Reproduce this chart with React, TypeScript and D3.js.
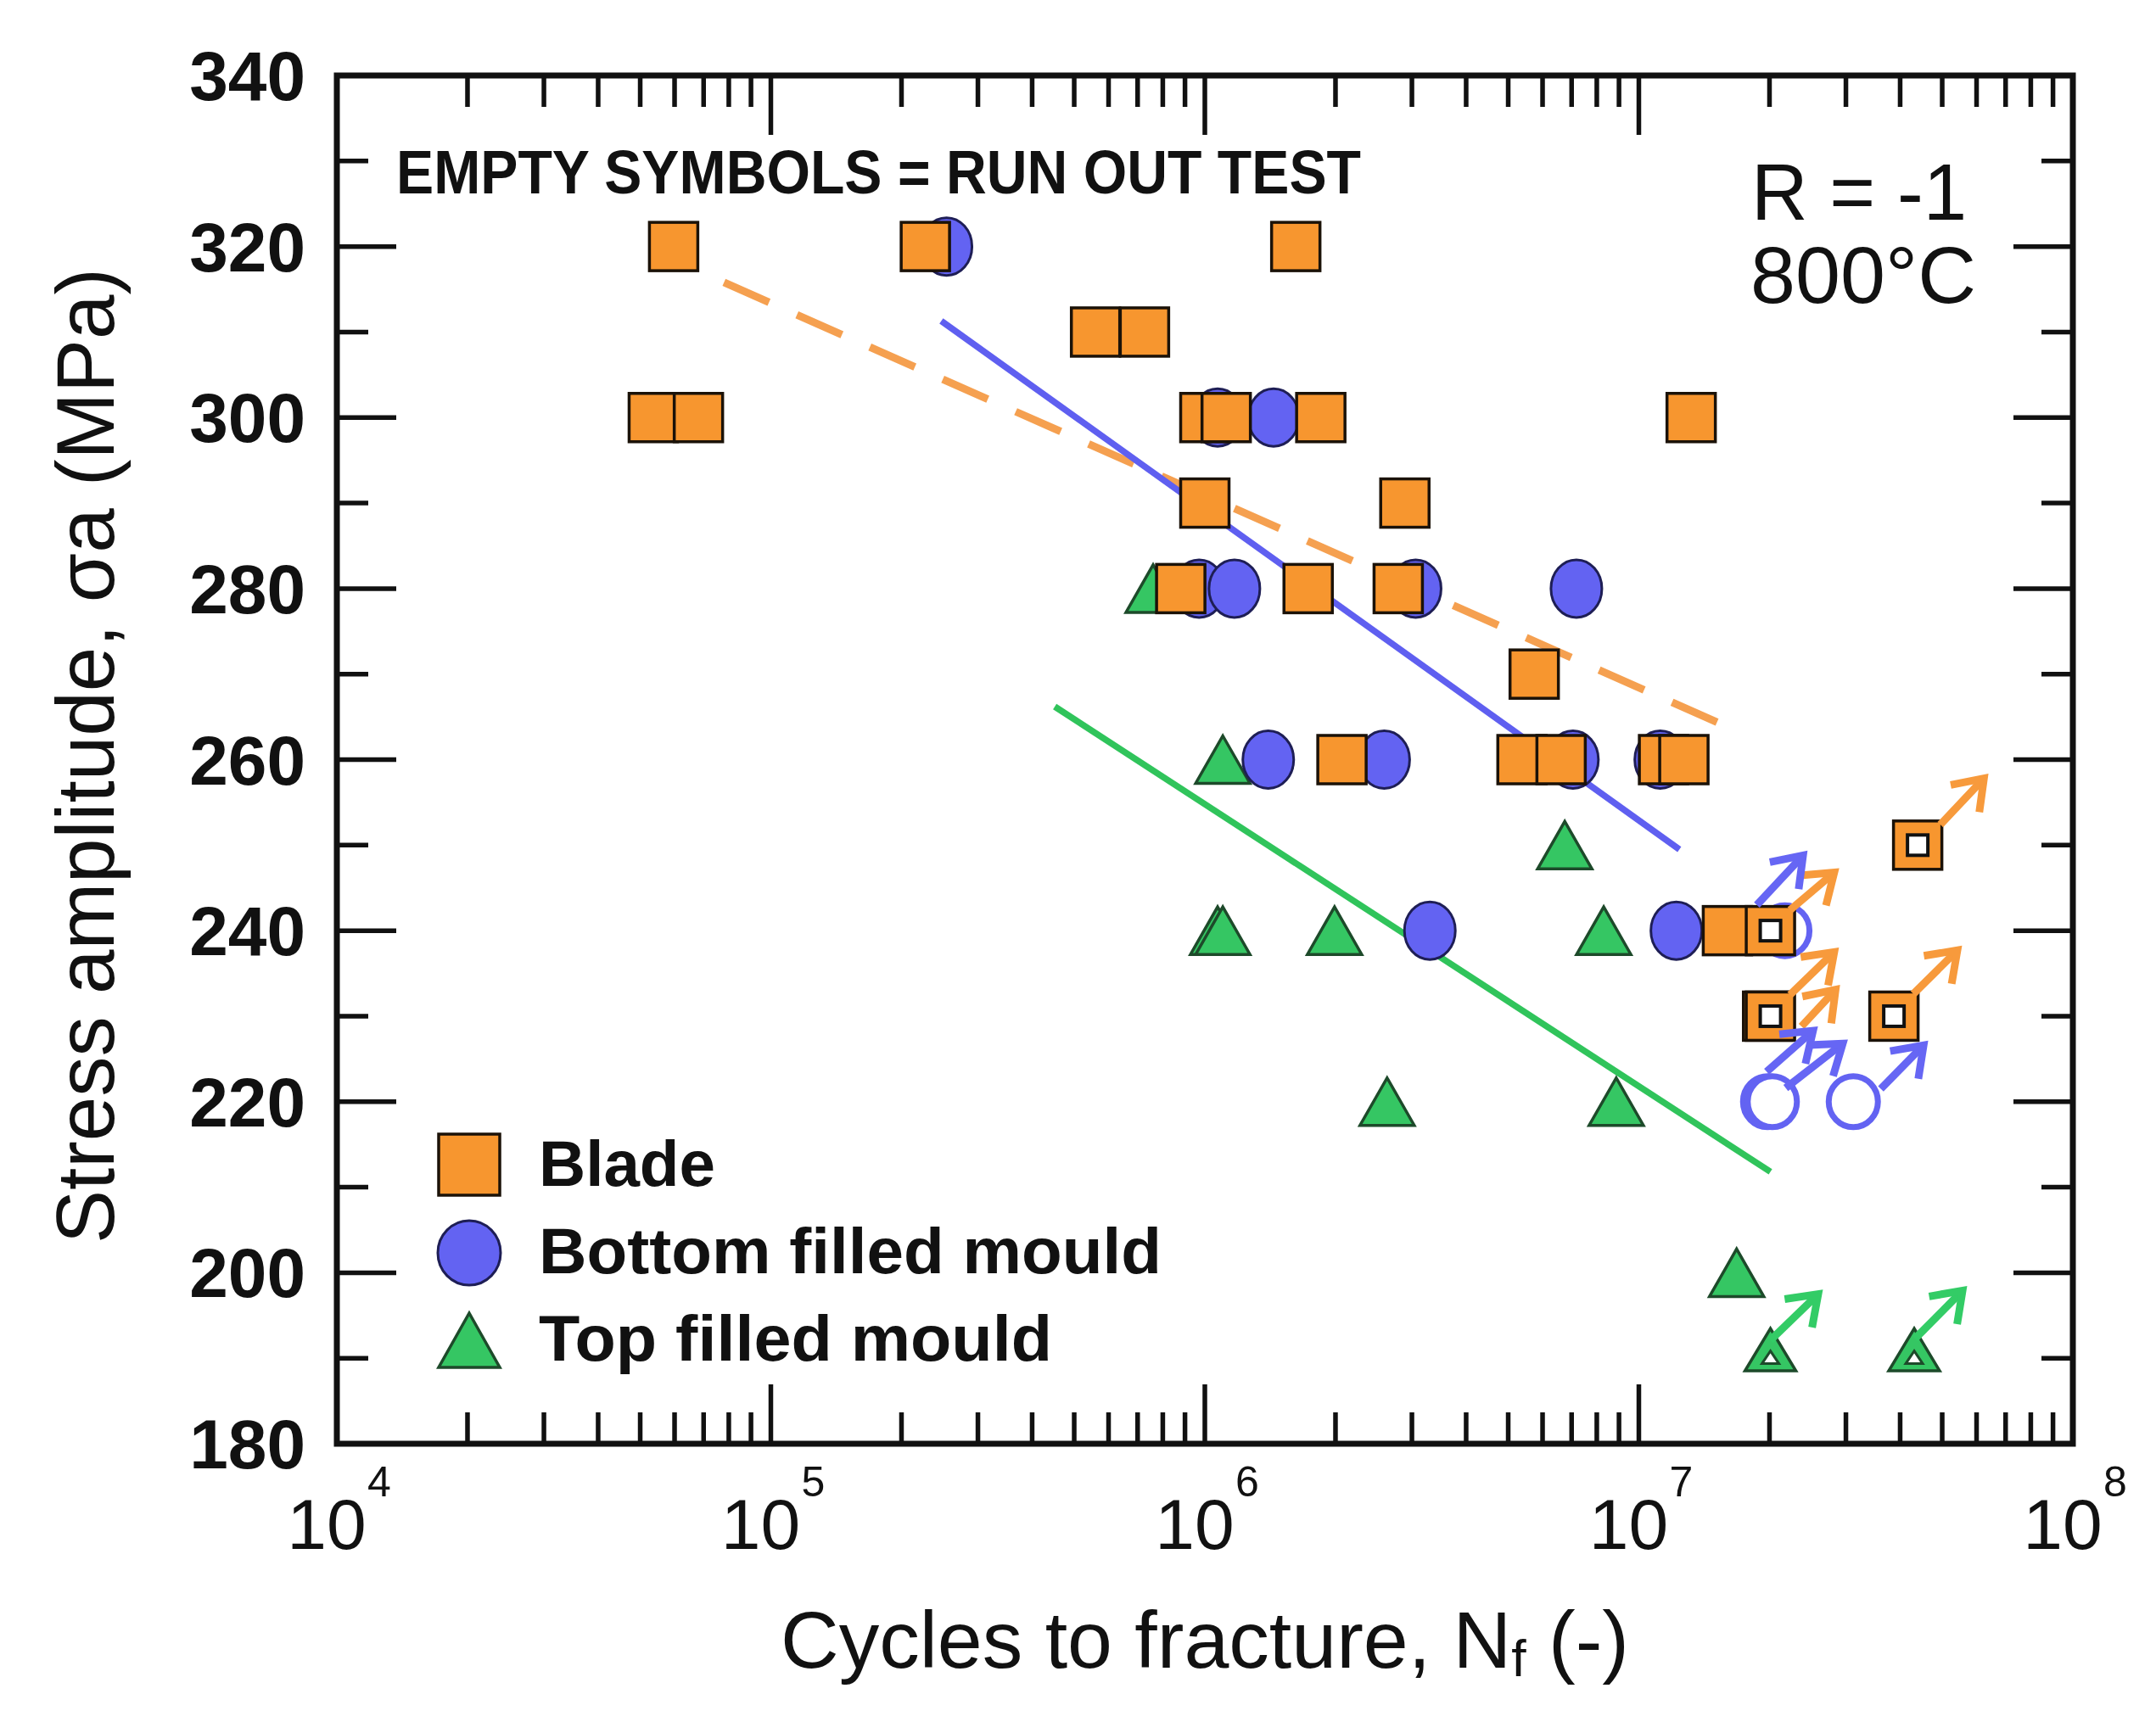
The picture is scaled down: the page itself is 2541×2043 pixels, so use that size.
import React from "react";
import * as d3 from "d3";

// ---------------- data ----------------
const X_DOMAIN: [number, number] = [1e4, 1e8];
const Y_DOMAIN: [number, number] = [180, 340];
const Y_TICKS = [180, 200, 220, 240, 260, 280, 300, 320, 340];
const Y_MINOR = [190, 210, 230, 250, 270, 290, 310, 330];
const X_EXPONENTS = [4, 5, 6, 7, 8];

// Blade (squares) – failed specimens [Nf, stress]
const bladeFailed: [number, number][] = [
  [5.97e4, 320], [2.27e5, 320], [1.62e6, 320],
  [5.6e5, 310], [7.26e5, 310],
  [5.36e4, 300], [6.81e4, 300], [1.0e6, 300], [1.12e6, 300], [1.85e6, 300], [1.32e7, 300],
  [1.0e6, 290], [2.89e6, 290],
  [8.8e5, 280], [1.73e6, 280], [2.79e6, 280],
  [5.74e6, 270],
  [2.07e6, 260], [5.38e6, 260], [6.62e6, 260], [1.14e7, 260], [1.27e7, 260],
  [1.6e7, 240],
];
const bladeRunout: [number, number][] = [
  [2.01e7, 240], [1.98e7, 230], [2.01e7, 230], [3.87e7, 230], [4.39e7, 250],
];

// Bottom filled mould (circles)
const bottomFailed: [number, number][] = [
  [2.54e5, 320],
  [1.07e6, 300], [1.44e6, 300],
  [9.7e5, 280], [1.17e6, 280], [3.06e6, 280], [7.18e6, 280],
  [1.4e6, 260], [2.59e6, 260], [7.05e6, 260], [1.12e7, 260],
  [3.3e6, 240], [1.22e7, 240],
];
const bottomRunout: [number, number][] = [
  [2.17e7, 240], [1.98e7, 220], [2.03e7, 220], [3.12e7, 220],
];

// Top filled mould (triangles)
const topFailed: [number, number][] = [
  [7.6e5, 280],
  [1.1e6, 260],
  [6.75e6, 250],
  [1.07e6, 240], [1.1e6, 240], [1.99e6, 240], [8.3e6, 240],
  [2.63e6, 220], [8.87e6, 220],
  [1.68e7, 200],
];
const topRunout: [number, number][] = [
  [2.01e7, 191], [4.31e7, 191],
];

// fitted S-N lines [Nf, stress] endpoints
const bladeFit: [number, number][] = [[7.8e4, 315.8], [1.59e7, 263.9]];
const bottomFit: [number, number][] = [[2.47e5, 311.3], [1.24e7, 249.5]];
const topFit: [number, number][] = [[4.51e5, 266.2], [2.01e7, 211.8]];

// run-out arrows [N0, s0, N1, s1]
const bladeArrows: [number, number, number, number][] = [
  [4.95e7, 252.4, 6.24e7, 257.8],
  [2.23e7, 242.4, 2.82e7, 246.8],
  [2.23e7, 232.5, 2.82e7, 237.5],
  [2.37e7, 228.8, 2.84e7, 233.1],
  [4.29e7, 232.6, 5.42e7, 237.7],
];
const bottomArrows: [number, number, number, number][] = [
  [1.87e7, 243.0, 2.39e7, 248.8],
  [1.97e7, 223.5, 2.52e7, 228.3],
  [2.18e7, 221.6, 2.95e7, 226.8],
  [3.61e7, 221.5, 4.53e7, 226.6],
];
const topArrows: [number, number, number, number][] = [
  [2.01e7, 192.1, 2.59e7, 197.5],
  [4.33e7, 192.3, 5.57e7, 197.9],
];

const legendLabels = ["Blade", "Bottom filled mould", "Top filled mould"];
const noteText = "EMPTY SYMBOLS = RUN OUT TEST";
const condText = ["R = -1", "800°C"];
const xTitle = ["Cycles to fracture, N", "f", " (-)"];
const yTitle = "Stress amplitude, σa (MPa)";

// ---------------- style ----------------
const FONT = "'Liberation Sans', Arial, Helvetica, sans-serif";
const ORANGE = "#F7962F";
const BLUE = "#6363F2";
const GREEN = "#35C663";
const ORANGE_LINE = "#F5A050";
const BLUE_LINE = "#5F5FF0";
const GREEN_LINE = "#30C45B";
const ORANGE_ARROW = "#F79A3C";
const BLUE_ARROW = "#6666F4";
const GREEN_ARROW = "#33CC66";

const L = 397, R = 2443, T = 89, B = 1702;

function Square({ cx, cy, s, runout }: { cx: number; cy: number; s: number; runout?: boolean }) {
  return (
    <g>
      <rect x={cx - s / 2} y={cy - s / 2} width={s} height={s} fill={ORANGE} stroke="#1b1208" strokeWidth={3.5} />
      {runout && <rect x={cx - 12} y={cy - 12} width={24} height={24} fill="#fff" stroke="#111" strokeWidth={4} />}
    </g>
  );
}

function Circle({ cx, cy, rx, ry, runout }: { cx: number; cy: number; rx: number; ry: number; runout?: boolean }) {
  if (runout) return <ellipse cx={cx} cy={cy} rx={rx - 2} ry={ry - 3} fill="#fff" stroke={BLUE} strokeWidth={7} />;
  return <ellipse cx={cx} cy={cy} rx={rx} ry={ry} fill={BLUE} stroke="#1e1e55" strokeWidth={3} />;
}

function Tri({ cx, cy, w, h, runout }: { cx: number; cy: number; w: number; h: number; runout?: boolean }) {
  const pts = (W: number, H: number, oy: number) =>
    `${cx},${cy + oy - H / 2} ${cx + W / 2},${cy + oy + H / 2} ${cx - W / 2},${cy + oy + H / 2}`;
  return (
    <g>
      <polygon points={pts(w, h, 0)} fill={GREEN} stroke="#1d4a2a" strokeWidth={3.5} strokeLinejoin="miter" />
      {runout && <polygon points={pts(20, 15, 9)} fill="#fff" stroke="#1d4a2a" strokeWidth={3} />}
    </g>
  );
}

function Arrow({ x1, y1, x2, y2, color }: { x1: number; y1: number; x2: number; y2: number; color: string }) {
  const ang = Math.atan2(y2 - y1, x2 - x1);
  const len = 40, spread = 0.62;
  const a1 = ang + Math.PI - spread, a2 = ang + Math.PI + spread;
  const w1 = [x2 + len * Math.cos(a1), y2 + len * Math.sin(a1)];
  const w2 = [x2 + len * Math.cos(a2), y2 + len * Math.sin(a2)];
  return (
    <g stroke={color} strokeWidth={9} fill="none">
      <line x1={x1} y1={y1} x2={x2} y2={y2} />
      <polyline points={`${w1[0]},${w1[1]} ${x2},${y2} ${w2[0]},${w2[1]}`} strokeLinejoin="miter" />
    </g>
  );
}

export default function App() {
  const x = d3.scaleLog().domain(X_DOMAIN).range([L, R]);
  const y = d3.scaleLinear().domain(Y_DOMAIN).range([B, T]);
  const line = d3.line<[number, number]>().x((d) => x(d[0])).y((d) => y(d[1]));

  const xMinor: number[] = [];
  for (let e = X_EXPONENTS[0]; e < X_EXPONENTS[X_EXPONENTS.length - 1]; e++) {
    for (let k = 2; k <= 9; k++) xMinor.push(k * Math.pow(10, e));
  }

  const majorLen = 70, minorLen = 37;
  const tickW = 5.5;

  return (
    <svg width={2541} height={2043} style={{ position: "absolute", left: 0, top: 0, background: "#fff" }} fontFamily={FONT}>
      <rect x={0} y={0} width={2541} height={2043} fill="#fff" />

      {/* ticks */}
      <g stroke="#111" strokeWidth={tickW}>
        {Y_TICKS.map((v) => (
          <g key={"yt" + v}>
            <line x1={L} x2={L + majorLen} y1={y(v)} y2={y(v)} />
            <line x1={R} x2={R - majorLen} y1={y(v)} y2={y(v)} />
          </g>
        ))}
        {Y_MINOR.map((v) => (
          <g key={"ym" + v}>
            <line x1={L} x2={L + minorLen} y1={y(v)} y2={y(v)} />
            <line x1={R} x2={R - minorLen} y1={y(v)} y2={y(v)} />
          </g>
        ))}
        {X_EXPONENTS.map((e) => (
          <g key={"xt" + e}>
            <line x1={x(Math.pow(10, e))} x2={x(Math.pow(10, e))} y1={B} y2={B - majorLen} />
            <line x1={x(Math.pow(10, e))} x2={x(Math.pow(10, e))} y1={T} y2={T + majorLen} />
          </g>
        ))}
        {xMinor.map((v) => (
          <g key={"xm" + v}>
            <line x1={x(v)} x2={x(v)} y1={B} y2={B - minorLen} />
            <line x1={x(v)} x2={x(v)} y1={T} y2={T + minorLen} />
          </g>
        ))}
      </g>
      <rect x={L} y={T} width={R - L} height={B - T} fill="none" stroke="#111" strokeWidth={7} />

      {/* y tick labels */}
      {Y_TICKS.map((v) => (
        <text key={"yl" + v} x={360} y={y(v) + 29} textAnchor="end" fontSize={82} fontWeight="bold" fill="#111">
          {v}
        </text>
      ))}
      {/* x tick labels: 10 with superscript exponent */}
      {X_EXPONENTS.map((e) => {
        const cx = x(Math.pow(10, e));
        return (
          <g key={"xl" + e} fill="#111">
            <text x={cx - 12} y={1826} fontSize={84} textAnchor="middle">10</text>
            <text x={cx + 36} y={1764} fontSize={50}>{e}</text>
          </g>
        );
      })}

      {/* axis titles */}
      <text x={920} y={1966} fontSize={94} fill="#111" textLength={1000} lengthAdjust="spacingAndGlyphs">
        {xTitle[0]}
        <tspan fontSize={62} dy={10}>{xTitle[1]}</tspan>
        <tspan dy={-10}>{xTitle[2]}</tspan>
      </text>
      <text transform="translate(134,891) rotate(-90)" textAnchor="middle" fontSize={97} fill="#111" textLength={1150} lengthAdjust="spacingAndGlyphs">
        {yTitle}
      </text>

      {/* annotations */}
      <text x={467} y={228} fontSize={72} fontWeight="bold" fill="#111" textLength={1137} lengthAdjust="spacingAndGlyphs">
        {noteText}
      </text>
      <text x={2064} y={259} fontSize={95} fill="#111" textLength={254} lengthAdjust="spacingAndGlyphs">{condText[0]}</text>
      <text x={2063} y={357} fontSize={95} fill="#111" textLength={266} lengthAdjust="spacingAndGlyphs">{condText[1]}</text>

      {/* fit lines */}
      <path d={line(bladeFit) || ""} stroke={ORANGE_LINE} strokeWidth={9} strokeDasharray="58,36" fill="none" />
      <path d={line(bottomFit) || ""} stroke={BLUE_LINE} strokeWidth={7.5} fill="none" />
      <path d={line(topFit) || ""} stroke={GREEN_LINE} strokeWidth={7.5} fill="none" />

      {/* markers: triangles, circles, squares */}
      {topFailed.map((d, i) => <Tri key={"tf" + i} cx={x(d[0])} cy={y(d[1])} w={64} h={56} />)}
      {topRunout.map((d, i) => <Tri key={"tr" + i} cx={x(d[0])} cy={y(d[1])} w={60} h={50} runout />)}
      {bottomRunout.map((d, i) => <Circle key={"br" + i} cx={x(d[0])} cy={y(d[1])} rx={31} ry={33} runout />)}
      {bottomFailed.map((d, i) => <Circle key={"bf" + i} cx={x(d[0])} cy={y(d[1])} rx={30} ry={34} />)}
      {bladeFailed.map((d, i) => <Square key={"sf" + i} cx={x(d[0])} cy={y(d[1])} s={57} />)}
      {bladeRunout.map((d, i) => <Square key={"sr" + i} cx={x(d[0])} cy={y(d[1])} s={57} runout />)}

      {/* run-out arrows */}
      {bladeArrows.map((a, i) => <Arrow key={"oa" + i} x1={x(a[0])} y1={y(a[1])} x2={x(a[2])} y2={y(a[3])} color={ORANGE_ARROW} />)}
      {bottomArrows.map((a, i) => <Arrow key={"ba" + i} x1={x(a[0])} y1={y(a[1])} x2={x(a[2])} y2={y(a[3])} color={BLUE_ARROW} />)}
      {topArrows.map((a, i) => <Arrow key={"ga" + i} x1={x(a[0])} y1={y(a[1])} x2={x(a[2])} y2={y(a[3])} color={GREEN_ARROW} />)}

      {/* legend */}
      <g>
        <Square cx={553} cy={1373} s={72} />
        <ellipse cx={553} cy={1477} rx={37} ry={38} fill={BLUE} stroke="#1e1e55" strokeWidth={3} />
        <Tri cx={553} cy={1580} w={72} h={64} />
        {legendLabels.map((t, i) => (
          <text key={t} x={635} y={1398 + i * 103} fontSize={76} fontWeight="bold" fill="#111"
            textLength={[208, 734, 605][i]} lengthAdjust="spacingAndGlyphs">{t}</text>
        ))}
      </g>
    </svg>
  );
}
